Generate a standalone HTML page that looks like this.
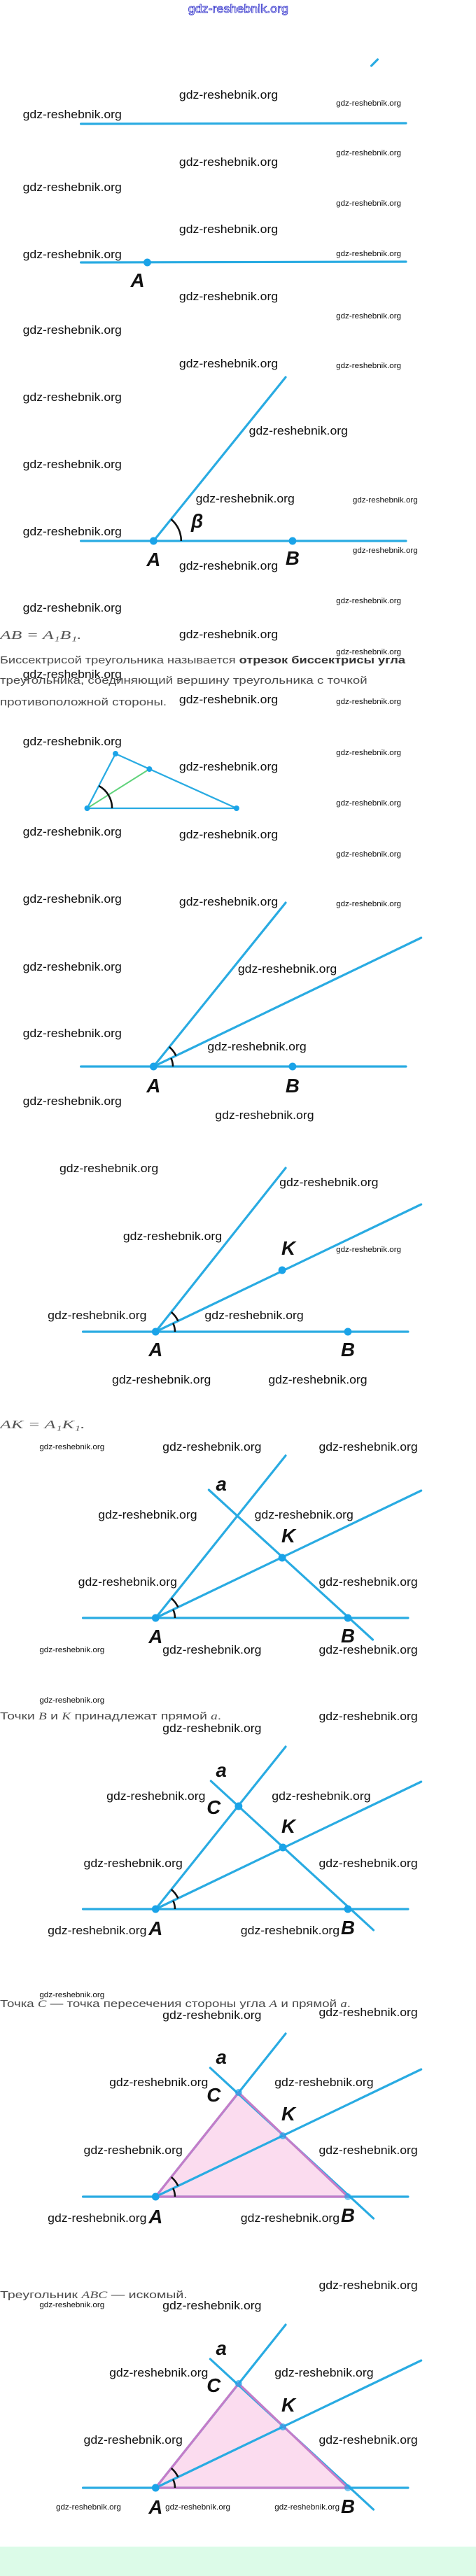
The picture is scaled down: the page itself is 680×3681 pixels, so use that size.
<!DOCTYPE html>
<html><head><meta charset="utf-8"><style>
html,body{margin:0;padding:0;background:#fff;}
svg{display:block;}
.wl{font-family:"Liberation Sans",sans-serif;font-size:17px;fill:#111;}
.ws{font-family:"Liberation Sans",sans-serif;font-size:11px;fill:#111;}
.ln{stroke:#29abe2;stroke-width:3.2;stroke-linecap:round;fill:none;}
.dt{fill:#1aa3e8;}
.lb{font-family:"Liberation Sans Narrow","Liberation Sans",sans-serif;font-weight:bold;font-style:italic;font-size:28px;fill:#111;text-anchor:middle;}
.arc{stroke:#111;stroke-width:2.6;fill:none;}
.tx{font-family:"Liberation Sans",sans-serif;font-size:15px;fill:#4a4a4a;}
.mt{font-family:"Liberation Serif",serif;font-style:italic;font-size:17px;fill:#555;}
.tri{fill:#fbdcef;}
.tre{stroke:#c47cc8;stroke-width:3.2;fill:none;stroke-linejoin:round;}
</style></head><body>
<svg width="680" height="3681" viewBox="0 0 680 3681" xmlns="http://www.w3.org/2000/svg">
<rect x="0" y="3639" width="680" height="42" fill="#dcfbe8"/>
<g transform="scale(0.988,1)">
<text x="272" y="18" font-family="Liberation Sans,sans-serif" font-size="17" fill="#fff" stroke="#3434cc" stroke-width="0.8" textLength="145" lengthAdjust="spacingAndGlyphs">gdz-reshebnik.org</text>
<line x1="537" y1="94" x2="546" y2="85" class="ln"/>

<!-- watermarks large -->
<g class="wl">
<text x="33" y="169" textLength="143" lengthAdjust="spacingAndGlyphs">gdz-reshebnik.org</text>
<text x="33" y="273" textLength="143" lengthAdjust="spacingAndGlyphs">gdz-reshebnik.org</text>
<text x="33" y="369" textLength="143" lengthAdjust="spacingAndGlyphs">gdz-reshebnik.org</text>
<text x="33" y="477" textLength="143" lengthAdjust="spacingAndGlyphs">gdz-reshebnik.org</text>
<text x="33" y="573" textLength="143" lengthAdjust="spacingAndGlyphs">gdz-reshebnik.org</text>
<text x="33" y="669" textLength="143" lengthAdjust="spacingAndGlyphs">gdz-reshebnik.org</text>
<text x="33" y="765" textLength="143" lengthAdjust="spacingAndGlyphs">gdz-reshebnik.org</text>
<text x="33" y="874" textLength="143" lengthAdjust="spacingAndGlyphs">gdz-reshebnik.org</text>
<text x="259" y="141" textLength="143" lengthAdjust="spacingAndGlyphs">gdz-reshebnik.org</text>
<text x="259" y="237" textLength="143" lengthAdjust="spacingAndGlyphs">gdz-reshebnik.org</text>
<text x="259" y="333" textLength="143" lengthAdjust="spacingAndGlyphs">gdz-reshebnik.org</text>
<text x="259" y="429" textLength="143" lengthAdjust="spacingAndGlyphs">gdz-reshebnik.org</text>
<text x="259" y="525" textLength="143" lengthAdjust="spacingAndGlyphs">gdz-reshebnik.org</text>
<text x="360" y="621" textLength="143" lengthAdjust="spacingAndGlyphs">gdz-reshebnik.org</text>
<text x="283" y="718" textLength="143" lengthAdjust="spacingAndGlyphs">gdz-reshebnik.org</text>
<text x="259" y="814" textLength="143" lengthAdjust="spacingAndGlyphs">gdz-reshebnik.org</text>
<text x="259" y="912" textLength="143" lengthAdjust="spacingAndGlyphs">gdz-reshebnik.org</text>
<text x="33" y="969" textLength="143" lengthAdjust="spacingAndGlyphs">gdz-reshebnik.org</text>
<text x="259" y="1005" textLength="143" lengthAdjust="spacingAndGlyphs">gdz-reshebnik.org</text>
<text x="33" y="1065" textLength="143" lengthAdjust="spacingAndGlyphs">gdz-reshebnik.org</text>
<text x="259" y="1101" textLength="143" lengthAdjust="spacingAndGlyphs">gdz-reshebnik.org</text>
<text x="33" y="1194" textLength="143" lengthAdjust="spacingAndGlyphs">gdz-reshebnik.org</text>
<text x="259" y="1198" textLength="143" lengthAdjust="spacingAndGlyphs">gdz-reshebnik.org</text>
<text x="33" y="1290" textLength="143" lengthAdjust="spacingAndGlyphs">gdz-reshebnik.org</text>
<text x="259" y="1294" textLength="143" lengthAdjust="spacingAndGlyphs">gdz-reshebnik.org</text>
<text x="33" y="1387" textLength="143" lengthAdjust="spacingAndGlyphs">gdz-reshebnik.org</text>
<text x="344" y="1390" textLength="143" lengthAdjust="spacingAndGlyphs">gdz-reshebnik.org</text>
<text x="33" y="1482" textLength="143" lengthAdjust="spacingAndGlyphs">gdz-reshebnik.org</text>
<text x="300" y="1501" textLength="143" lengthAdjust="spacingAndGlyphs">gdz-reshebnik.org</text>
<text x="33" y="1579" textLength="143" lengthAdjust="spacingAndGlyphs">gdz-reshebnik.org</text>
<text x="311" y="1599" textLength="143" lengthAdjust="spacingAndGlyphs">gdz-reshebnik.org</text>
<text x="86" y="1675" textLength="143" lengthAdjust="spacingAndGlyphs">gdz-reshebnik.org</text>
<text x="404" y="1695" textLength="143" lengthAdjust="spacingAndGlyphs">gdz-reshebnik.org</text>
<text x="178" y="1772" textLength="143" lengthAdjust="spacingAndGlyphs">gdz-reshebnik.org</text>
<text x="69" y="1885" textLength="143" lengthAdjust="spacingAndGlyphs">gdz-reshebnik.org</text>
<text x="296" y="1885" textLength="143" lengthAdjust="spacingAndGlyphs">gdz-reshebnik.org</text>
<text x="162" y="1977" textLength="143" lengthAdjust="spacingAndGlyphs">gdz-reshebnik.org</text>
<text x="388" y="1977" textLength="143" lengthAdjust="spacingAndGlyphs">gdz-reshebnik.org</text>
<text x="235" y="2073" textLength="143" lengthAdjust="spacingAndGlyphs">gdz-reshebnik.org</text>
<text x="461" y="2073" textLength="143" lengthAdjust="spacingAndGlyphs">gdz-reshebnik.org</text>
<text x="142" y="2170" textLength="143" lengthAdjust="spacingAndGlyphs">gdz-reshebnik.org</text>
<text x="368" y="2170" textLength="143" lengthAdjust="spacingAndGlyphs">gdz-reshebnik.org</text>
<text x="113" y="2266" textLength="143" lengthAdjust="spacingAndGlyphs">gdz-reshebnik.org</text>
<text x="461" y="2266" textLength="143" lengthAdjust="spacingAndGlyphs">gdz-reshebnik.org</text>
<text x="235" y="2363" textLength="143" lengthAdjust="spacingAndGlyphs">gdz-reshebnik.org</text>
<text x="461" y="2363" textLength="143" lengthAdjust="spacingAndGlyphs">gdz-reshebnik.org</text>
<text x="461" y="2458" textLength="143" lengthAdjust="spacingAndGlyphs">gdz-reshebnik.org</text>
<text x="235" y="2475" textLength="143" lengthAdjust="spacingAndGlyphs">gdz-reshebnik.org</text>
<text x="154" y="2572" textLength="143" lengthAdjust="spacingAndGlyphs">gdz-reshebnik.org</text>
<text x="393" y="2572" textLength="143" lengthAdjust="spacingAndGlyphs">gdz-reshebnik.org</text>
<text x="121" y="2668" textLength="143" lengthAdjust="spacingAndGlyphs">gdz-reshebnik.org</text>
<text x="461" y="2668" textLength="143" lengthAdjust="spacingAndGlyphs">gdz-reshebnik.org</text>
<text x="69" y="2764" textLength="143" lengthAdjust="spacingAndGlyphs">gdz-reshebnik.org</text>
<text x="348" y="2764" textLength="143" lengthAdjust="spacingAndGlyphs">gdz-reshebnik.org</text>
<text x="235" y="2885" textLength="143" lengthAdjust="spacingAndGlyphs">gdz-reshebnik.org</text>
<text x="461" y="2881" textLength="143" lengthAdjust="spacingAndGlyphs">gdz-reshebnik.org</text>
<text x="158" y="2981" textLength="143" lengthAdjust="spacingAndGlyphs">gdz-reshebnik.org</text>
<text x="397" y="2981" textLength="143" lengthAdjust="spacingAndGlyphs">gdz-reshebnik.org</text>
<text x="121" y="3078" textLength="143" lengthAdjust="spacingAndGlyphs">gdz-reshebnik.org</text>
<text x="461" y="3078" textLength="143" lengthAdjust="spacingAndGlyphs">gdz-reshebnik.org</text>
<text x="69" y="3175" textLength="143" lengthAdjust="spacingAndGlyphs">gdz-reshebnik.org</text>
<text x="348" y="3175" textLength="143" lengthAdjust="spacingAndGlyphs">gdz-reshebnik.org</text>
<text x="461" y="3271" textLength="143" lengthAdjust="spacingAndGlyphs">gdz-reshebnik.org</text>
<text x="235" y="3300" textLength="143" lengthAdjust="spacingAndGlyphs">gdz-reshebnik.org</text>
<text x="158" y="3396" textLength="143" lengthAdjust="spacingAndGlyphs">gdz-reshebnik.org</text>
<text x="397" y="3396" textLength="143" lengthAdjust="spacingAndGlyphs">gdz-reshebnik.org</text>
<text x="121" y="3492" textLength="143" lengthAdjust="spacingAndGlyphs">gdz-reshebnik.org</text>
<text x="461" y="3492" textLength="143" lengthAdjust="spacingAndGlyphs">gdz-reshebnik.org</text>
</g>
<g class="ws">
<text x="486" y="151" textLength="94" lengthAdjust="spacingAndGlyphs">gdz-reshebnik.org</text>
<text x="486" y="222" textLength="94" lengthAdjust="spacingAndGlyphs">gdz-reshebnik.org</text>
<text x="486" y="294" textLength="94" lengthAdjust="spacingAndGlyphs">gdz-reshebnik.org</text>
<text x="486" y="366" textLength="94" lengthAdjust="spacingAndGlyphs">gdz-reshebnik.org</text>
<text x="486" y="455" textLength="94" lengthAdjust="spacingAndGlyphs">gdz-reshebnik.org</text>
<text x="486" y="526" textLength="94" lengthAdjust="spacingAndGlyphs">gdz-reshebnik.org</text>
<text x="510" y="718" textLength="94" lengthAdjust="spacingAndGlyphs">gdz-reshebnik.org</text>
<text x="510" y="790" textLength="94" lengthAdjust="spacingAndGlyphs">gdz-reshebnik.org</text>
<text x="486" y="862" textLength="94" lengthAdjust="spacingAndGlyphs">gdz-reshebnik.org</text>
<text x="486" y="935" textLength="94" lengthAdjust="spacingAndGlyphs">gdz-reshebnik.org</text>
<text x="486" y="1006" textLength="94" lengthAdjust="spacingAndGlyphs">gdz-reshebnik.org</text>
<text x="486" y="1079" textLength="94" lengthAdjust="spacingAndGlyphs">gdz-reshebnik.org</text>
<text x="486" y="1151" textLength="94" lengthAdjust="spacingAndGlyphs">gdz-reshebnik.org</text>
<text x="486" y="1224" textLength="94" lengthAdjust="spacingAndGlyphs">gdz-reshebnik.org</text>
<text x="486" y="1295" textLength="94" lengthAdjust="spacingAndGlyphs">gdz-reshebnik.org</text>
<text x="486" y="1789" textLength="94" lengthAdjust="spacingAndGlyphs">gdz-reshebnik.org</text>
<text x="57" y="2071" textLength="94" lengthAdjust="spacingAndGlyphs">gdz-reshebnik.org</text>
<text x="57" y="2361" textLength="94" lengthAdjust="spacingAndGlyphs">gdz-reshebnik.org</text>
<text x="57" y="2433" textLength="94" lengthAdjust="spacingAndGlyphs">gdz-reshebnik.org</text>
<text x="57" y="2854" textLength="94" lengthAdjust="spacingAndGlyphs">gdz-reshebnik.org</text>
<text x="57" y="3297" textLength="94" lengthAdjust="spacingAndGlyphs">gdz-reshebnik.org</text>
<text x="81" y="3586" textLength="94" lengthAdjust="spacingAndGlyphs">gdz-reshebnik.org</text>
<text x="239" y="3586" textLength="94" lengthAdjust="spacingAndGlyphs">gdz-reshebnik.org</text>
<text x="397" y="3586" textLength="94" lengthAdjust="spacingAndGlyphs">gdz-reshebnik.org</text>
</g>

<!-- text -->
<text class="mt" x="0" y="913" textLength="118" lengthAdjust="spacingAndGlyphs">AB = A₁B₁.</text>
<text class="tx" x="0" y="948" textLength="586" lengthAdjust="spacingAndGlyphs">Биссектрисой треугольника называется <tspan font-weight="bold" fill="#333">отрезок биссектрисы угла</tspan></text>
<text class="tx" x="0" y="977" textLength="531" lengthAdjust="spacingAndGlyphs">треугольника, соединяющий вершину треугольника с точкой</text>
<text class="tx" x="0" y="1008" textLength="241" lengthAdjust="spacingAndGlyphs">противоположной стороны.</text>
<text class="mt" x="0" y="2041" textLength="123" lengthAdjust="spacingAndGlyphs">AK = A₁K₁.</text>
<text class="tx" x="0" y="2457" textLength="320" lengthAdjust="spacingAndGlyphs">Точки <tspan font-family="Liberation Serif" font-style="italic">B</tspan> и <tspan font-family="Liberation Serif" font-style="italic">K</tspan> принадлежат прямой <tspan font-family="Liberation Serif" font-style="italic">a</tspan>.</text>
<text class="tx" x="0" y="2868" textLength="507" lengthAdjust="spacingAndGlyphs">Точка <tspan font-family="Liberation Serif" font-style="italic">C</tspan> — точка пересечения стороны угла <tspan font-family="Liberation Serif" font-style="italic">A</tspan> и прямой <tspan font-family="Liberation Serif" font-style="italic">a</tspan>.</text>
<text class="tx" x="0" y="3284" textLength="271" lengthAdjust="spacingAndGlyphs">Треугольник <tspan font-family="Liberation Serif" font-style="italic">ABC</tspan> — искомый.</text>

<!-- fig 1 -->
<line class="ln" x1="117" y1="177" x2="587" y2="176"/>
<!-- fig 2 -->
<line class="ln" x1="117" y1="375" x2="587" y2="374"/>
<circle class="dt" cx="213" cy="375" r="5.5"/>
<text class="lb" x="199" y="410">A</text>
<!-- fig 3 -->
<g transform="translate(222,773)">
<line class="ln" x1="-105" y1="0" x2="365" y2="0"/>
<line class="ln" x1="0" y1="0" x2="191" y2="-234"/>
<path class="arc" d="M40,0 A40,40 0 0 0 25.3,-31"/>
<circle class="dt" cx="0" cy="0" r="5.5"/>
<circle class="dt" cx="201" cy="0" r="5.5"/>
<text class="lb" x="0" y="36">A</text>
<text class="lb" x="201" y="34">B</text>
<text class="lb" x="63" y="-19">β</text>
</g>
<!-- triangle fig -->
<g>
<path d="M126,1155 L167,1077 L342,1155 Z" fill="none" stroke="#29abe2" stroke-width="2.3" stroke-linejoin="round"/>
<line x1="126" y1="1155" x2="216" y2="1099" stroke="#5fd27a" stroke-width="2"/>
<path class="arc" d="M162,1155 A36,36 0 0 0 143,1123"/>
<circle class="dt" cx="126" cy="1155" r="4"/>
<circle class="dt" cx="167" cy="1077" r="4"/>
<circle class="dt" cx="216" cy="1099" r="4"/>
<circle class="dt" cx="342" cy="1155" r="4"/>
</g>
<!-- fig 4 -->
<g transform="translate(222,1524)">
<line class="ln" x1="-105" y1="0" x2="365" y2="0"/>
<line class="ln" x1="0" y1="0" x2="191" y2="-234"/>
<line class="ln" x1="0" y1="0" x2="387" y2="-184"/>
<path class="arc" d="M28,0 A28,28 0 0 0 25.3,-12"/>
<path class="arc" d="M32.5,-15.4 A36,36 0 0 0 22.7,-28"/>
<circle class="dt" cx="0" cy="0" r="5.5"/>
<circle class="dt" cx="201" cy="0" r="5.5"/>
<text class="lb" x="0" y="37">A</text>
<text class="lb" x="201" y="37">B</text>
</g>
<!-- fig 5 -->
<g transform="translate(225,1903)">
<line class="ln" x1="-105" y1="0" x2="365" y2="0"/>
<line class="ln" x1="0" y1="0" x2="188" y2="-234"/>
<line class="ln" x1="0" y1="0" x2="384" y2="-182"/>
<path class="arc" d="M28,0 A28,28 0 0 0 25.3,-12"/>
<path class="arc" d="M32.5,-15.4 A36,36 0 0 0 22.7,-28"/>
<circle class="dt" cx="0" cy="0" r="5.5"/>
<circle class="dt" cx="278" cy="0" r="5.5"/>
<circle class="dt" cx="183" cy="-88" r="5.5"/>
<text class="lb" x="0" y="35">A</text>
<text class="lb" x="278" y="35">B</text>
<text class="lb" x="192" y="-110">K</text>
</g>
<!-- fig 6 -->
<g transform="translate(225,2312)">
<line class="ln" x1="-105" y1="0" x2="365" y2="0"/>
<line class="ln" x1="0" y1="0" x2="188" y2="-232"/>
<line class="ln" x1="0" y1="0" x2="384" y2="-182"/>
<line class="ln" x1="77" y1="-183" x2="314" y2="31"/>
<path class="arc" d="M28,0 A28,28 0 0 0 25.3,-12"/>
<path class="arc" d="M32.5,-15.4 A36,36 0 0 0 22.7,-28"/>
<circle class="dt" cx="0" cy="0" r="5.5"/>
<circle class="dt" cx="278" cy="0" r="5.5"/>
<circle class="dt" cx="183" cy="-86" r="5.5"/>
<text class="lb" x="0" y="36">A</text>
<text class="lb" x="278" y="35">B</text>
<text class="lb" x="192" y="-108">K</text>
<text class="lb" x="95" y="-182">a</text>
</g>
<!-- fig 7 -->
<g transform="translate(225,2728)">
<line class="ln" x1="-105" y1="0" x2="365" y2="0"/>
<line class="ln" x1="0" y1="0" x2="188" y2="-232"/>
<line class="ln" x1="0" y1="0" x2="384" y2="-182"/>
<line class="ln" x1="80" y1="-183" x2="315" y2="30"/>
<path class="arc" d="M28,0 A28,28 0 0 0 25.3,-12"/>
<path class="arc" d="M32.5,-15.4 A36,36 0 0 0 22.7,-28"/>
<circle class="dt" cx="0" cy="0" r="5.5"/>
<circle class="dt" cx="278" cy="0" r="5.5"/>
<circle class="dt" cx="184" cy="-88" r="5.5"/>
<circle class="dt" cx="120" cy="-147" r="5.5"/>
<text class="lb" x="0" y="37">A</text>
<text class="lb" x="278" y="36">B</text>
<text class="lb" x="192" y="-109">K</text>
<text class="lb" x="95" y="-189">a</text>
<text class="lb" x="84" y="-136">C</text>
</g>
<!-- fig 8 -->
<g transform="translate(225,3139)">
<path class="tri" d="M0,0 L120,-149 L278,0 Z"/>
<line class="ln" x1="-105" y1="0" x2="365" y2="0"/>
<line class="ln" x1="0" y1="0" x2="188" y2="-233"/>
<line class="ln" x1="0" y1="0" x2="384" y2="-182"/>
<line class="ln" x1="79" y1="-184" x2="315" y2="31"/>
<path class="tre" d="M0,0 L120,-149 L278,0 Z"/>
<path class="arc" d="M28,0 A28,28 0 0 0 25.3,-12"/>
<path class="arc" d="M32.5,-15.4 A36,36 0 0 0 22.7,-28"/>
<circle class="dt" cx="0" cy="0" r="5.5"/>
<circle class="dt" cx="278" cy="0" r="5" fill-opacity="0.6"/>
<circle class="dt" cx="184" cy="-87" r="5" fill-opacity="0.7"/>
<circle class="dt" cx="120" cy="-149" r="5" fill-opacity="0.7"/>
<text class="lb" x="0" y="38">A</text>
<text class="lb" x="278" y="36">B</text>
<text class="lb" x="192" y="-109">K</text>
<text class="lb" x="95" y="-190">a</text>
<text class="lb" x="84" y="-136">C</text>
</g>
<!-- fig 9 -->
<g transform="translate(225,3555)">
<path class="tri" d="M0,0 L120,-149 L278,0 Z"/>
<line class="ln" x1="-105" y1="0" x2="365" y2="0"/>
<line class="ln" x1="0" y1="0" x2="188" y2="-233"/>
<line class="ln" x1="0" y1="0" x2="384" y2="-182"/>
<line class="ln" x1="79" y1="-184" x2="315" y2="31"/>
<path class="tre" d="M0,0 L120,-149 L278,0 Z"/>
<path class="arc" d="M28,0 A28,28 0 0 0 25.3,-12"/>
<path class="arc" d="M32.5,-15.4 A36,36 0 0 0 22.7,-28"/>
<circle class="dt" cx="0" cy="0" r="5.5"/>
<circle class="dt" cx="278" cy="0" r="5" fill-opacity="0.6"/>
<circle class="dt" cx="184" cy="-87" r="5" fill-opacity="0.7"/>
<circle class="dt" cx="120" cy="-149" r="5" fill-opacity="0.7"/>
<text class="lb" x="0" y="37">A</text>
<text class="lb" x="278" y="36">B</text>
<text class="lb" x="192" y="-109">K</text>
<text class="lb" x="95" y="-190">a</text>
<text class="lb" x="84" y="-137">C</text>
</g>
</g>
</svg>
</body></html>
